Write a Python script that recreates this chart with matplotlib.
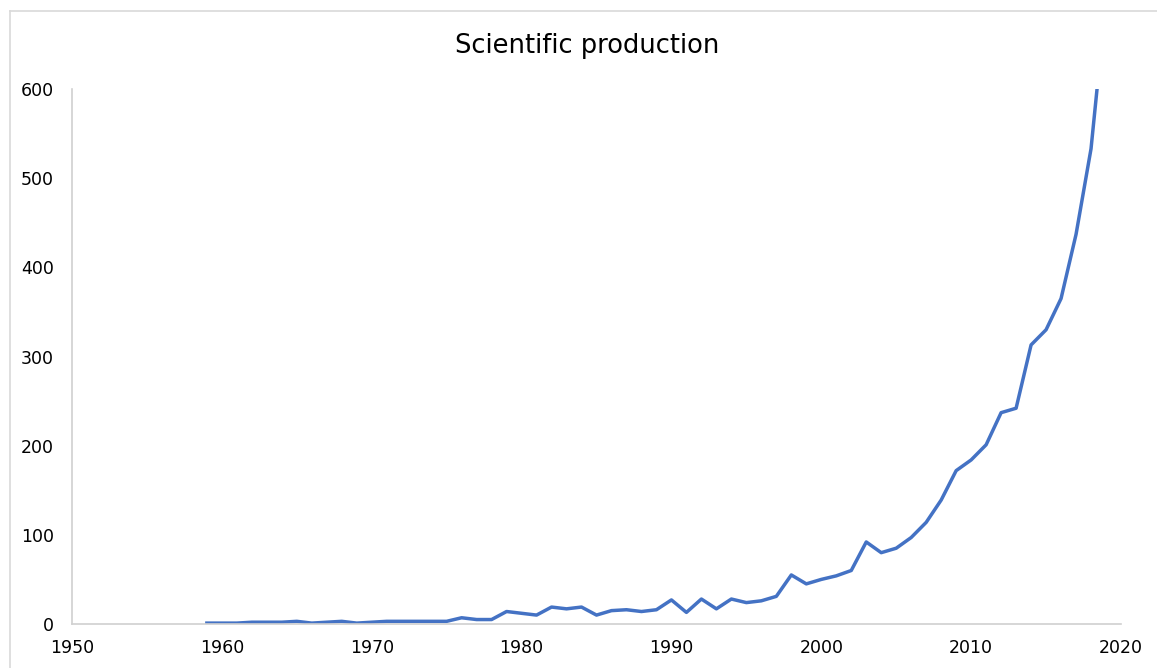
import matplotlib.pyplot as plt
from matplotlib.lines import Line2D

# yearly counts
years = list(range(1959, 2020))
papers = [1, 1, 1, 2, 2, 2, 3, 1, 2, 3,
          1, 2, 3, 3, 3, 3, 3, 7, 5, 5,
          14, 12, 10, 19, 17, 19, 10, 15, 16, 14,
          16, 27, 13, 28, 17, 28, 24, 26, 31, 55,
          45, 50, 54, 60, 92, 80, 85, 97, 114, 139,
          172, 184, 201, 237, 242, 313, 330, 365, 437, 533,
          700]

x_ticks = [1950, 1960, 1970, 1980, 1990, 2000, 2010, 2020]
y_ticks = [0, 100, 200, 300, 400, 500, 600]

W, H = 1157, 668
fig = plt.figure(figsize=(W / 100, H / 100), dpi=100)
ax = fig.add_axes([72 / W, 44 / H, (1121 - 72) / W, (624 - 89) / H])

ax.plot(years, papers, color='#4472C4', linewidth=2.5, solid_joinstyle='round')

ax.set_xlim(1950, 2020)
ax.set_ylim(0, 600)
ax.set_xticks(x_ticks)
ax.set_yticks(y_ticks)
ax.tick_params(length=0, labelsize=12.5, colors='#000000')
ax.tick_params(axis='y', pad=13)
ax.tick_params(axis='x', pad=11)

for s in ['top', 'right']:
    ax.spines[s].set_visible(False)
for s in ['left', 'bottom']:
    ax.spines[s].set_color('#D0D0D0')
    ax.spines[s].set_linewidth(1.2)

fig.text(587 / W, 1 - 46 / H, 'Scientific production', ha='center', va='center', fontsize=18.5)

# chart area border (cut off on the right and bottom)
fig.add_artist(Line2D([10 / W, 10 / W], [0, 1 - 11 / H], color='#D9D9D9', linewidth=1.2))
fig.add_artist(Line2D([10 / W, 1], [1 - 11 / H, 1 - 11 / H], color='#D9D9D9', linewidth=1.2))

fig.savefig('out.png', dpi=100)
